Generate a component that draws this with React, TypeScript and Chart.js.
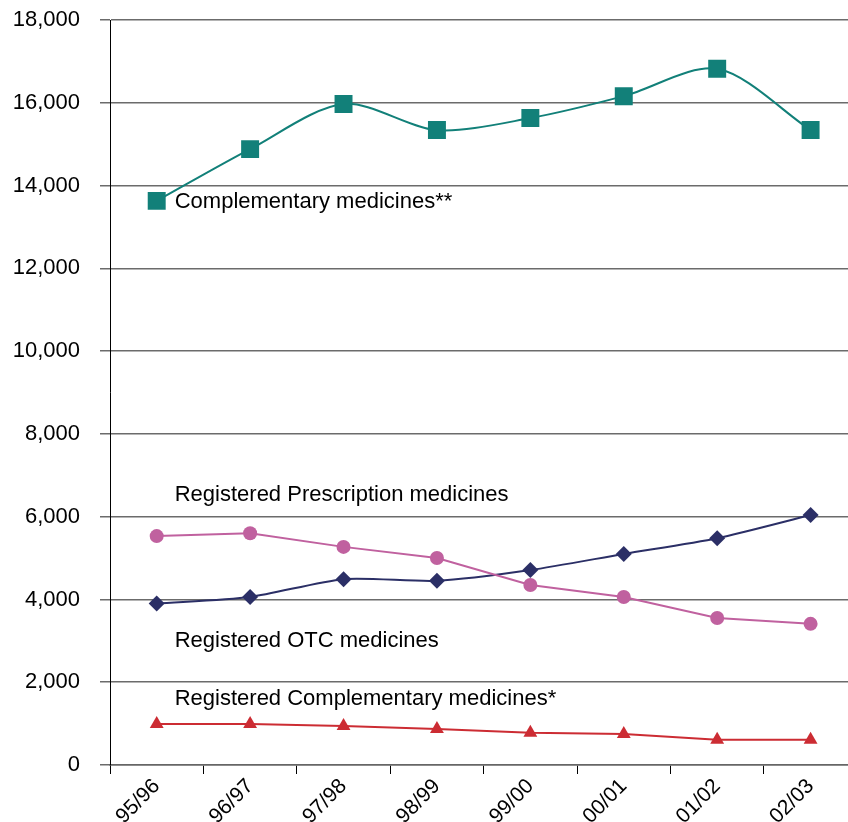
import React, { useEffect, useRef } from "react";
import { Chart, registerables } from "chart.js";

Chart.register(...registerables);

const categories = ["95/96", "96/97", "97/98", "98/99", "99/00", "00/01", "01/02", "02/03"];
const complementary = [13630, 14880, 15970, 15340, 15630, 16160, 16820, 15340];
const prescription = [3900, 4060, 4490, 4450, 4710, 5100, 5480, 6040];
const otc = [5530, 5600, 5270, 5000, 4350, 4060, 3550, 3410];
const regComplementary = [990, 990, 940, 870, 780, 750, 610, 610];
const yTickValues = [0, 2000, 4000, 6000, 8000, 10000, 12000, 14000, 16000, 18000];
const seriesTexts = [
  "Complementary medicines**",
  "Registered Prescription medicines",
  "Registered OTC medicines",
  "Registered Complementary medicines*",
];
const seriesTextValues = [13600, 6520, 3000, 1590];

const FONT = '"Liberation Sans", Arial, Helvetica, sans-serif';

const textPlugin = {
  id: "seriesText",
  afterDatasetsDraw(chart: any) {
    const { ctx, scales } = chart;
    const x = scales.x;
    const y = scales.y;
    ctx.save();
    ctx.font = `22px ${FONT}`;
    ctx.fillStyle = "#000";
    ctx.textBaseline = "middle";
    ctx.textAlign = "left";
    const x0 = x.getPixelForValue(0) + 18;
    seriesTexts.forEach((t, i) => {
      ctx.fillText(t, x0, y.getPixelForValue(seriesTextValues[i]));
    });
    ctx.restore();
  },
};

export default function App() {
  const ref = useRef<HTMLCanvasElement | null>(null);

  useEffect(() => {
    if (!ref.current) return;
    const chart = new Chart(ref.current, {
      type: "line",
      data: {
        labels: categories,
        datasets: [
          {
            label: seriesTexts[0],
            data: complementary,
            borderColor: "#128079",
            backgroundColor: "#128079",
            borderWidth: 2,
            pointStyle: "rect",
            pointRadius: 12.7,
            pointBorderWidth: 0,
            tension: 0.3,
          },
          {
            label: seriesTexts[2],
            data: otc,
            borderColor: "#c0619f",
            backgroundColor: "#c0619f",
            borderWidth: 2,
            pointStyle: "circle",
            pointRadius: 7,
            pointBorderWidth: 0,
            tension: 0,
          },
          {
            label: seriesTexts[1],
            data: prescription,
            borderColor: "#2b2f66",
            backgroundColor: "#2b2f66",
            borderWidth: 2,
            pointStyle: "rectRot",
            pointRadius: 8,
            pointBorderWidth: 0,
            tension: 0.25,
          },
          {
            label: seriesTexts[3],
            data: regComplementary,
            borderColor: "#cc2c33",
            backgroundColor: "#cc2c33",
            borderWidth: 2,
            pointStyle: "triangle",
            pointRadius: 8,
            pointBorderWidth: 0,
            tension: 0,
          },
        ],
      },
      options: {
        responsive: false,
        animation: false,
        devicePixelRatio: 1,
        layout: { padding: { top: 20, right: 12, left: 0, bottom: 0 } },
        plugins: {
          legend: { display: false },
          tooltip: { enabled: false },
        },
        scales: {
          x: {
            type: "category",
            offset: true,
            grid: {
              offset: true,
              drawOnChartArea: false,
              drawTicks: true,
              tickLength: 9,
              color: "#000",
            },
            border: { display: true, color: "#666", width: 1.5 },
            ticks: {
              autoSkip: false,
              minRotation: 45,
              maxRotation: 45,
              color: "#000",
              font: { family: FONT, size: 21 },
              padding: 0,
            },
            afterFit(scale: any) {
              scale.height = 57;
              scale.paddingLeft = 0;
              scale.paddingRight = 0;
            },
          },
          y: {
            min: 0,
            max: 18000,
            afterBuildTicks(scale: any) {
              scale.ticks = yTickValues.map((v) => ({ value: v }));
            },
            grid: {
              color: "#6b6b6b",
              lineWidth: 1.5,
              drawTicks: true,
              tickLength: 10,
            },
            border: { display: true, color: "#000", width: 1 },
            ticks: {
              color: "#000",
              font: { family: FONT, size: 22 },
              padding: 20,
              callback: (v: any) => Number(v).toLocaleString("en-US"),
            },
            afterFit(scale: any) {
              scale.width = 110;
              scale.paddingTop = 0;
              scale.paddingBottom = 0;
            },
          },
        },
      },
      plugins: [textPlugin],
    });
    return () => chart.destroy();
  }, []);

  return (
    <div
      style={{
        position: "fixed",
        left: 0,
        top: 0,
        width: 848,
        height: 822,
        overflow: "hidden",
        background: "#fff",
      }}
    >
      <canvas ref={ref} width={870} height={822} style={{ display: "block" }} />
    </div>
  );
}
